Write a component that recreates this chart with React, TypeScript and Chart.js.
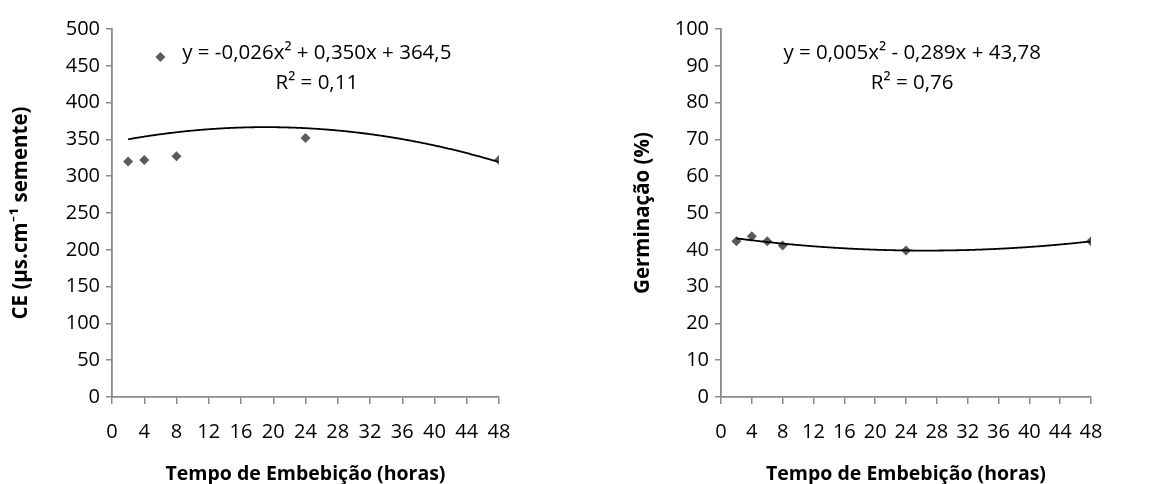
import React, { useEffect, useRef } from "react";
import { Chart, registerables } from "chart.js";

Chart.register(...registerables);

// ---- Data ----
const ceHours = [2, 4, 6, 8, 24, 48];
const ceValues = [320, 322, 462, 327, 352, 322];
const germHours = [2, 4, 6, 8, 24, 48];
const germValues = [42.3, 43.7, 42.3, 41.2, 39.8, 42.3];
const ceEquation = ["y = -0,026x² + 0,350x + 364,5", "R² = 0,11"];
const germEquation = ["y = 0,005x² - 0,289x + 43,78", "R² = 0,76"];
const xAxisTitle = "Tempo de Embebição (horas)";
const ceAxisTitle = "CE (µs.cm⁻¹ semente)";
const germAxisTitle = "Germinação (%)";

const FONT = "'Open Sans', Lato, sans-serif";
const AXIS_COLOR = "#8a8a8a";
const MARKER_COLOR = "#5a5a5a";

// quadratic least squares fit (trendline, as Excel does)
function quadFit(xs: number[], ys: number[]) {
  const s = [0, 0, 0, 0, 0];
  const t = [0, 0, 0];
  for (let i = 0; i < xs.length; i++) {
    let p = 1;
    for (let k = 0; k < 5; k++) {
      s[k] += p;
      if (k < 3) t[k] += p * ys[i];
      p *= xs[i];
    }
  }
  const M = [
    [s[0], s[1], s[2], t[0]],
    [s[1], s[2], s[3], t[1]],
    [s[2], s[3], s[4], t[2]],
  ];
  for (let i = 0; i < 3; i++) {
    let piv = i;
    for (let r = i + 1; r < 3; r++) if (Math.abs(M[r][i]) > Math.abs(M[piv][i])) piv = r;
    [M[i], M[piv]] = [M[piv], M[i]];
    for (let r = 0; r < 3; r++) {
      if (r === i) continue;
      const f = M[r][i] / M[i][i];
      for (let c = i; c < 4; c++) M[r][c] -= f * M[i][c];
    }
  }
  return [M[0][3] / M[0][0], M[1][3] / M[1][1], M[2][3] / M[2][2]];
}

const overlayPlugin = {
  id: "overlay",
  afterDatasetsDraw(chart: any, _args: any, opts: any) {
    const { ctx } = chart;
    const xs = chart.scales.x;
    const ys = chart.scales.y;
    const [c, b, a] = opts.coef;
    const x0 = Math.min(...opts.xs);
    const x1 = Math.max(...opts.xs);
    ctx.save();
    ctx.beginPath();
    const p0 = xs.getPixelForValue(x0);
    const p1 = xs.getPixelForValue(x1);
    for (let px = p0; px <= p1 + 0.01; px += 1) {
      const xv = xs.getValueForPixel(Math.min(px, p1));
      const yv = c + b * xv + a * xv * xv;
      const py = ys.getPixelForValue(yv);
      if (px === p0) ctx.moveTo(px, py);
      else ctx.lineTo(px, py);
    }
    ctx.strokeStyle = "#000";
    ctx.lineWidth = 1.8;
    ctx.stroke();

    ctx.fillStyle = "#000";
    ctx.font = `20.5px ${FONT}`;
    ctx.textAlign = "center";
    ctx.textBaseline = "middle";
    const cx = xs.getPixelForValue(opts.labelX);
    const cy = ys.getPixelForValue(opts.labelY);
    opts.lines.forEach((ln: string, i: number) => {
      ctx.fillText(ln, cx, cy + i * 30);
    });
    ctx.restore();
  },
};

type PanelProps = {
  left: number;
  width: number;
  xs: number[];
  ys: number[];
  yMax: number;
  yStep: number;
  yTitle: string;
  eq: string[];
  labelX: number;
  labelY: number;
  areaLeft: number;
  padRight: number;
  titlePad: number;
};

function Panel(p: PanelProps) {
  const ref = useRef<HTMLCanvasElement>(null);
  useEffect(() => {
    const coef = quadFit(p.xs, p.ys);
    const chart = new Chart(ref.current!, {
      type: "scatter",
      data: {
        datasets: [
          {
            data: p.xs.map((x, i) => ({ x, y: p.ys[i] })),
            pointStyle: "rectRot",
            pointRadius: 5,
            backgroundColor: MARKER_COLOR,
            borderColor: MARKER_COLOR,
            borderWidth: 0,
          },
        ],
      },
      options: {
        responsive: false,
        animation: false,
        layout: { padding: { top: 29, right: p.padRight, left: 0, bottom: 0 } },
        plugins: {
          legend: { display: false },
          tooltip: { enabled: false },
          overlay: { coef, xs: p.xs, lines: p.eq, labelX: p.labelX, labelY: p.labelY },
        } as any,
        scales: {
          x: {
            type: "linear",
            min: 0,
            max: 48,
            afterFit: (s: any) => {
              s.height = 87;
            },
            ticks: {
              stepSize: 4,
              color: "#000",
              font: { family: FONT, size: 20 },
              padding: 16,
              maxRotation: 0,
              autoSkip: false,
            },
            grid: {
              drawOnChartArea: false,
              drawTicks: true,
              tickLength: 7,
              color: AXIS_COLOR,
              lineWidth: 1.5,
            },
            border: { display: true, color: AXIS_COLOR, width: 1.8 },
            title: {
              display: true,
              text: xAxisTitle,
              color: "#000",
              font: { family: FONT, size: 19.5, weight: "bold", lineHeight: 1 },
              padding: { top: 0, bottom: 0 },
            },
          },
          y: {
            min: 0,
            max: p.yMax,
            afterFit: (s: any) => {
              s.width = p.areaLeft;
            },
            ticks: {
              stepSize: p.yStep,
              color: "#000",
              font: { family: FONT, size: 20 },
              padding: 6,
            },
            grid: {
              drawOnChartArea: false,
              drawTicks: true,
              tickLength: 6,
              color: AXIS_COLOR,
              lineWidth: 1.5,
            },
            border: { display: true, color: AXIS_COLOR, width: 1.8 },
            title: {
              display: true,
              text: p.yTitle,
              color: "#000",
              font: { family: FONT, size: 20.5, weight: "bold", lineHeight: 1 },
              padding: { top: p.titlePad, bottom: 0 },
            },
          },
        },
      },
      plugins: [overlayPlugin],
    });
    return () => chart.destroy();
  }, []);
  return (
    <canvas
      ref={ref}
      width={p.width}
      height={484}
      style={{ position: "absolute", left: p.left, top: 0, width: p.width, height: 484 }}
    />
  );
}

export default function App() {
  return (
    <div style={{ position: "absolute", left: 0, top: 0, width: 1176, height: 484, background: "#fff" }}>
      <Panel
        left={0}
        width={580}
        xs={ceHours}
        ys={ceValues}
        yMax={500}
        yStep={50}
        yTitle={ceAxisTitle}
        eq={ceEquation}
        labelX={25.4}
        labelY={467}
        areaLeft={112}
        padRight={81}
        titlePad={11}
      />
      <Panel
        left={580}
        width={596}
        xs={germHours}
        ys={germValues}
        yMax={100}
        yStep={10}
        yTitle={germAxisTitle}
        eq={germEquation}
        labelX={24.8}
        labelY={93.5}
        areaLeft={141}
        padRight={85}
        titlePad={53}
      />
    </div>
  );
}
